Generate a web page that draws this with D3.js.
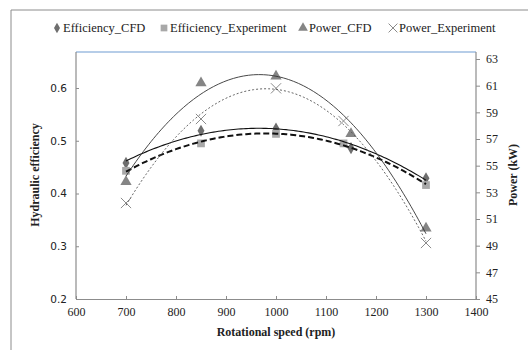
<!DOCTYPE html>
<html>
<head>
<meta charset="utf-8">
<script src="https://cdn.jsdelivr.net/npm/d3@7"></script>
<style>
  body { margin: 0; background: #fff; }
  text { fill: #222; }
</style>
</head>
<body>
<div id="chart"></div>
<script>
// values
var rpmCFD = [700, 850, 1000, 1150, 1300];
var rpmExp = [700, 850, 1000, 1135, 1300];
var effCFD = [0.458, 0.519, 0.523, 0.486, 0.429];
var effExp = [0.443, 0.495, 0.513, 0.495, 0.416];
var powCFD = [53.8, 61.2, 61.7, 57.4, 50.3];
var powExp = [52.2, 58.5, 60.8, 58.35, 49.2];

var xTicks = [600, 700, 800, 900, 1000, 1100, 1200, 1300, 1400];
var leftTicks = [0.2, 0.3, 0.4, 0.5, 0.6];
var rightTicks = [45, 47, 49, 51, 53, 55, 57, 59, 61, 63];
var legendNames = ["Efficiency_CFD", "Efficiency_Experiment", "Power_CFD", "Power_Experiment"];

var SERIF = "'Liberation Serif', 'DejaVu Serif', serif";
var W = 528, H = 350;
var svg = d3.select("#chart").append("svg")
  .attr("width", W)
  .attr("height", H)
  .attr("font-family", SERIF);

// outer chart frame
svg.append("path")
  .attr("d", "M11,352 L11,10 L530,10")
  .attr("fill", "none")
  .attr("stroke", "#8c8c8c")
  .attr("stroke-width", 1);

var x = d3.scaleLinear().domain([600, 1400]).range([76, 476]);
var yL = d3.scaleLinear().domain([0.2, 0.6]).range([299, 88]);
var yR = d3.scaleLinear().domain([45, 63]).range([299, 59]);
var plotTop = 52;

// plot area border
svg.append("line")
  .attr("x1", 76).attr("x2", 476)
  .attr("y1", plotTop).attr("y2", plotTop)
  .attr("stroke", "#6f9bd1").attr("stroke-width", 1.2);

var gx = svg.append("g")
  .attr("transform", "translate(0,299)")
  .call(d3.axisBottom(x).tickValues(xTicks).tickSizeInner(-3).tickSizeOuter(0).tickPadding(8)
    .tickFormat(d3.format("d")));
var gl = svg.append("g")
  .attr("transform", "translate(76,0)")
  .call(d3.axisLeft(yL).tickValues(leftTicks).tickSizeInner(-3).tickSizeOuter(0).tickPadding(9)
    .tickFormat(d3.format(".1f")));
gl.select(".domain").attr("d", "M0," + plotTop + "V299");
var gr = svg.append("g")
  .attr("transform", "translate(476,0)")
  .call(d3.axisRight(yR).tickValues(rightTicks).tickSizeInner(4).tickSizeOuter(0).tickPadding(6));
gr.select(".domain").attr("d", "M0," + plotTop + "V299");

[gx, gl, gr].forEach(function(g) {
  g.attr("font-family", SERIF);
  g.select(".domain").attr("stroke", "#8c8c8c").attr("stroke-width", 1.2);
  g.selectAll(".tick line").attr("stroke", "#8c8c8c");
  g.selectAll(".tick text")
    .attr("font-size", 12)
    .attr("fill", "#222");
});
gl.selectAll(".tick text").attr("font-family", "DejaVu Sans").attr("font-size", 10.5).attr("fill", "#444");

// axis titles
svg.append("text")
  .attr("x", 276).attr("y", 336)
  .attr("text-anchor", "middle")
  .attr("font-size", 12).attr("font-weight", "bold")
  .text("Rotational speed (rpm)");
svg.append("text")
  .attr("transform", "translate(39,175) rotate(-90)")
  .attr("text-anchor", "middle")
  .attr("font-size", 12).attr("font-weight", "bold")
  .text("Hydraulic efficiency");
svg.append("text")
  .attr("transform", "translate(517,175) rotate(-90)")
  .attr("text-anchor", "middle")
  .attr("font-size", 12).attr("font-weight", "bold")
  .text("Power (kW)");

// second order polynomial trendline, like the spreadsheet does
function quadFit(xs, ys) {
  var n = xs.length, s = [0, 0, 0, 0, 0], t = [0, 0, 0];
  for (var i = 0; i < n; i++) {
    var u = (xs[i] - 1000) / 100;
    for (var k = 0; k < 5; k++) s[k] += Math.pow(u, k);
    for (var k = 0; k < 3; k++) t[k] += ys[i] * Math.pow(u, k);
  }
  var A = [[s[0], s[1], s[2], t[0]], [s[1], s[2], s[3], t[1]], [s[2], s[3], s[4], t[2]]];
  for (var c = 0; c < 3; c++) {
    for (var r = c + 1; r < 3; r++) {
      var f = A[r][c] / A[c][c];
      for (var k = c; k < 4; k++) A[r][k] -= f * A[c][k];
    }
  }
  var b = [0, 0, 0];
  for (var r = 2; r >= 0; r--) {
    var v = A[r][3];
    for (var k = r + 1; k < 3; k++) v -= A[r][k] * b[k];
    b[r] = v / A[r][r];
  }
  return function(xv) { var u = (xv - 1000) / 100; return b[0] + b[1] * u + b[2] * u * u; };
}

var series = [
  { xs: rpmCFD, ys: effCFD, y: yL, stroke: "#111", width: 1.1, dash: null, sym: d3.symbolDiamond, size: 42, fill: "#6e6e6e" },
  { xs: rpmExp, ys: effExp, y: yL, stroke: "#111", width: 2, dash: "6,3", sym: d3.symbolSquare, size: 60, fill: "#a8a8a8" },
  { xs: rpmCFD, ys: powCFD, y: yR, stroke: "#333", width: 0.9, dash: null, sym: d3.symbolTriangle, size: 55, fill: "#858585" },
  { xs: rpmExp, ys: powExp, y: yR, stroke: "#555", width: 0.9, dash: "2,2", sym: d3.symbolX, size: 70, fill: "#8a8a8a" }
];

// markers first, trendlines over them
series.forEach(function(s) {
  var pts = s.xs.map(function(v, i) { return [v, s.ys[i]]; });
  svg.append("g").selectAll("path")
    .data(pts)
    .enter().append("path")
    .attr("transform", function(d) { return "translate(" + x(d[0]) + "," + s.y(d[1]) + ")"; })
    .attr("d", d3.symbol().type(s.sym).size(s.size))
    .attr("fill", s.sym === d3.symbolX ? "none" : s.fill)
    .attr("stroke", s.sym === d3.symbolX ? s.fill : "none")
    .attr("stroke-width", 1);
});

series.forEach(function(s) {
  var fit = quadFit(s.xs, s.ys);
  var xs = d3.range(700, 1301, 5);
  var line = d3.line()
    .x(function(d) { return x(d); })
    .y(function(d) { return s.y(fit(d)); });
  svg.append("path")
    .datum(xs)
    .attr("d", line)
    .attr("fill", "none")
    .attr("stroke", s.stroke)
    .attr("stroke-width", s.width)
    .attr("stroke-dasharray", s.dash);
});

// legend
var legendX = [57, 164, 303, 393];
var lg = svg.append("g");
legendNames.forEach(function(name, i) {
  var s = series[i];
  lg.append("path")
    .attr("transform", "translate(" + legendX[i] + ",28)")
    .attr("d", d3.symbol().type(s.sym).size(s.size * 0.75))
    .attr("fill", s.sym === d3.symbolX ? "none" : s.fill)
    .attr("stroke", s.sym === d3.symbolX ? s.fill : "none");
  lg.append("text")
    .attr("x", legendX[i] + 6).attr("y", 32)
    .attr("font-size", 12.5)
    .text(name);
});
</script>
</body>
</html>
